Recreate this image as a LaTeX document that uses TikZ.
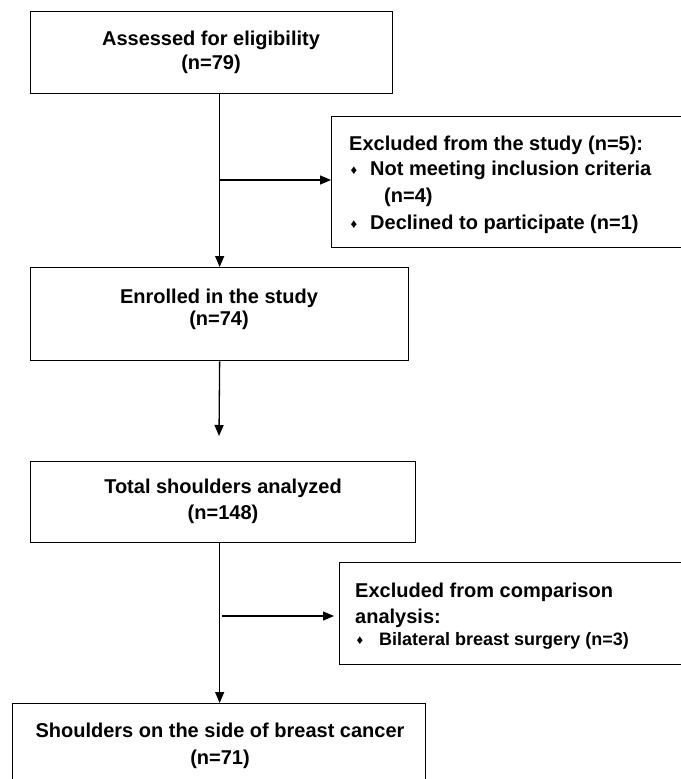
\documentclass[tikz,border=0pt]{standalone}
\usepackage{fontspec}
\setmainfont{Liberation Sans}
\usetikzlibrary{arrows.meta}
\begin{document}
\begin{tikzpicture}[x=1pt,y=-1pt,
  box/.style={draw, line width=1.3pt, inner sep=0pt, anchor=north west},
  txt/.style={font=\fontsize{20}{24}\selectfont\bfseries, anchor=base, inner sep=0pt},
  ltxt/.style={txt, anchor=base west},
  stxt/.style={ltxt, font=\fontsize{18}{22}\selectfont\bfseries},
  bul/.style={anchor=base, inner sep=0pt, font=\fontsize{13}{14}\selectfont},
  arr/.style={line width=1.3pt, -{Triangle[length=11pt,width=9pt]}}]
\useasboundingbox (0,0) rectangle (680,779);
% boxes
\node[box, minimum width=362pt, minimum height=82pt] (b1) at (30,11) {};
\node[box, minimum width=350pt, minimum height=131pt] (e1) at (331,116) {};
\node[box, minimum width=378pt, minimum height=93pt] (b2) at (30,267) {};
\node[box, minimum width=385pt, minimum height=81pt] (b3) at (30,461) {};
\node[box, minimum width=342pt, minimum height=102pt] (e2) at (339,562) {};
\node[box, minimum width=413pt, minimum height=79pt] (b4) at (12,703) {};
% texts
\node[txt] (t1a) at (211,45) {Assessed for eligibility};
\node[txt] (t1b) at (211,69) {(n=79)};
\node[txt] (t2a) at (219,303) {Enrolled in the study};
\node[txt] (t2b) at (219,325) {(n=74)};
\node[txt] (t3a) at (223,493) {Total shoulders analyzed};
\node[txt] (t3b) at (223,519) {(n=148)};
\node[txt] (t4a) at (220,737) {Shoulders on the side of breast cancer};
\node[txt] (t4b) at (220,764) {(n=71)};
\node[ltxt] (x1a) at (349,150) {Excluded from the study (n=5):};
\node[bul] (x1b) at (354,174) {♦};
\node[ltxt] (x1c) at (370,175) {Not meeting inclusion criteria};
\node[ltxt] (x1d) at (384,202) {(n=4)};
\node[bul] (x1e) at (354,228) {♦};
\node[ltxt] (x1f) at (370,229) {Declined to participate (n=1)};
\node[ltxt] (x2a) at (355,597) {Excluded from comparison};
\node[ltxt] (x2b) at (355,623) {analysis:};
\node[bul] (x2c) at (360,644) {♦};
\node[stxt] (x2d) at (379,645) {Bilateral breast surgery (n=3)};
% connectors
\coordinate (j1) at (219,180);
\coordinate (k1) at (331,180);
\coordinate (p3) at (219,436);
\coordinate (j2) at (222,616);
\coordinate (k2) at (334,616);
\draw[arr] (b1.south -| b2.north) -- (b2.north);
\draw[arr] (j1) -- (k1);
\draw[arr] (b2.south) -- (p3);
\draw[arr] (b3.south -| b2.south) -- (b4.north -| b2.south);
\draw[arr] (j2) -- (k2);
\end{tikzpicture}
\end{document}
